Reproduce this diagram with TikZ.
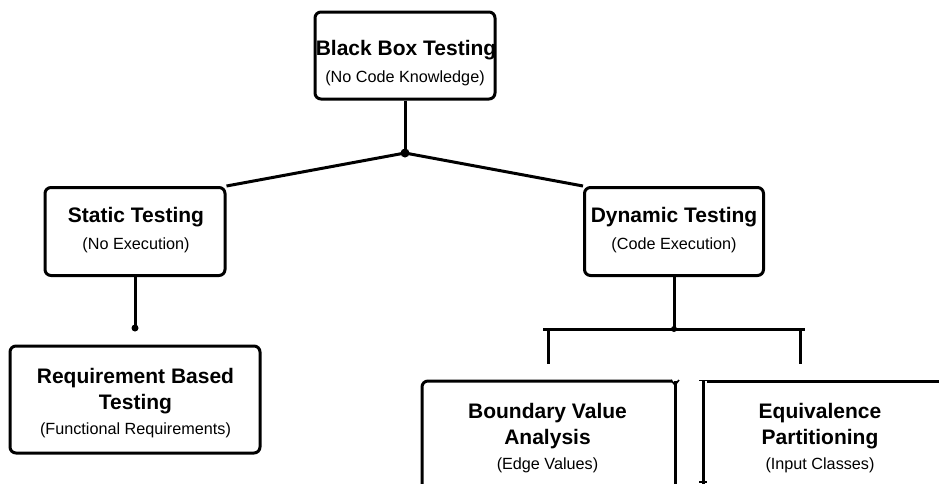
\documentclass[tikz,border=0pt]{standalone}
\usepackage{fontspec}
\setmainfont{Liberation Sans}
\begin{document}
\begin{tikzpicture}[x=1pt,y=-1pt,
  link/.style={line width=3pt},
  card/.style={draw, line width=3pt, rounded corners=6pt, fill=white, inner sep=0pt},
  ttl/.style={font=\bfseries\fontsize{21}{25}\selectfont, inner sep=0pt, anchor=base},
  sub/.style={font=\fontsize{16.2}{19}\selectfont, inner sep=0pt, anchor=base},
  dot/.style={circle, fill=black, inner sep=0pt, minimum size=#1}
]
\useasboundingbox (0,0) rectangle (939,483);
\clip (0,0) rectangle (939,483);

% boxes
\node[card, minimum width=180pt, minimum height=87pt] (bb) at (405,55.5) {};
\node[card, minimum width=180pt, minimum height=88pt] (st) at (135,231.5) {};
\node[card, minimum width=179pt, minimum height=88pt] (dy) at (674,231.5) {};
\node[card, minimum width=250pt, minimum height=107pt] (rq) at (135,399.5) {};

% lower boxes that run past the page edges
\coordinate (bvTL) at (422,381);
\coordinate (bvTR) at (675,381);
\coordinate (epTL) at (703,381);
\draw[link, rounded corners=6pt] (422,520) -- (bvTL) -- (672,381);
\draw[link] (bvTR) -- (675,520);
\draw[line width=1.6pt] (671,380) -- (675,385) -- (679,380);
\draw[link] (epTL) -- (703,520);
\draw[line width=1.6pt] (699,380.5) -- (707,380.5);
\draw[line width=1.6pt] (699,482) -- (707,482);
\draw[link] (707,381) -- (960,381);

% junctions
\node[dot=9pt] (j1) at (405,153) {};
\node[dot=7pt] (j2) at (135,328) {};
\node[dot=6pt] (j3) at (674,329) {};
\coordinate (barL) at (543,329);
\coordinate (barR) at (805,329);
\coordinate (dropL) at (548,364);
\coordinate (dropR) at (800,364);

% connectors
\draw[link] (bb.south) -- (j1.center);
\draw[link] (j1.center) -- (st.north east);
\draw[link] (j1.center) -- (dy.north west);
\draw[link] (st.south) -- (j2.center);
\draw[link] (dy.south) -- (j3.center);
\draw[link] (barL) -- (barR);
\draw[link] (dropL |- barL) -- (dropL);
\draw[link] (dropR |- barR) -- (dropR);

% labels
\node[ttl] (bbT) at (406,55.5) {Black Box Testing};
\node[sub] (bbS) at (405,82.7) {(No Code Knowledge)};
\node[ttl] (stT) at (136,222.5) {Static Testing};
\node[sub] (stS) at (136,249.7) {(No Execution)};
\node[ttl] (dyT) at (674,222.5) {Dynamic Testing};
\node[sub] (dyS) at (674,249.7) {(Code Execution)};
\node[ttl] (rqT1) at (135.5,383.5) {Requirement Based};
\node[ttl] (rqT2) at (135.5,409.5) {Testing};
\node[sub] (rqS) at (135.5,434.7) {(Functional Requirements)};
\node[ttl] (bvT1) at (547.5,418.5) {Boundary Value};
\node[ttl] (bvT2) at (547.5,444.5) {Analysis};
\node[sub] (bvS) at (547.5,469.7) {(Edge Values)};
\node[ttl] (epT1) at (820,418.5) {Equivalence};
\node[ttl] (epT2) at (820,444.5) {Partitioning};
\node[sub] (epS) at (820,469.7) {(Input Classes)};
\end{tikzpicture}
\end{document}
